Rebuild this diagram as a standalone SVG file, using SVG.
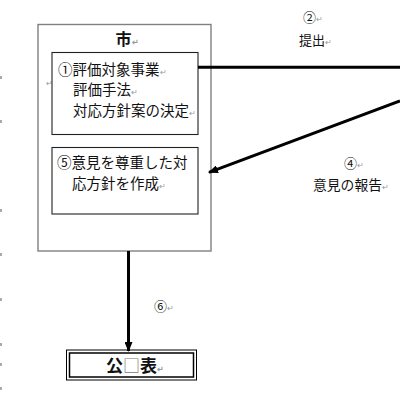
<svg xmlns="http://www.w3.org/2000/svg" width="400" height="400" viewBox="0 0 400 400">
<style>
text{font-family:"Noto Sans CJK JP","Noto Sans",sans-serif;fill:#111}
.t{font-size:14.5px}
.s{font-size:13px}
.pm{font-size:8px;fill:#999}
.box{fill:#fff;stroke:#222;stroke-width:1.1}
.outer{fill:#fff;stroke:#808080;stroke-width:1.4}
.conn{stroke:#000;stroke-width:3;fill:none}
.tick{fill:#aaa}
</style>
<defs>
<marker id="ah" markerWidth="10" markerHeight="8" refX="9" refY="4" orient="auto" markerUnits="userSpaceOnUse">
<path d="M0,0 L10,4 L0,8 Z" fill="#000"/>
</marker>
</defs>
<rect width="400" height="400" fill="#fff"/>
<g id="ticks">
<rect class="tick" x="0" y="76" width="2" height="3"/>
<rect class="tick" x="0" y="120" width="2" height="3"/>
<rect class="tick" x="0" y="209" width="2" height="3"/>
<rect class="tick" x="0" y="253" width="2" height="3"/>
<rect class="tick" x="0" y="298" width="2" height="3"/>
<rect class="tick" x="0" y="343" width="2" height="3"/>
<rect class="tick" x="0" y="363" width="2" height="3"/>
<rect class="tick" x="0" y="387" width="2" height="3"/>
</g>
<g id="city">
<rect class="outer" x="38" y="24.5" width="173" height="226.5"/>
<text x="127" y="45" text-anchor="middle" font-size="16" font-weight="bold">市<tspan class="pm">↵</tspan></text>
<text class="pm" x="46" y="86">↵</text>
</g>
<g id="node1">
<rect class="box" x="52" y="52.5" width="146" height="82"/>
<text class="t" x="58" y="75">①評価対象事業<tspan class="pm">↵</tspan></text>
<text class="t" x="73" y="95">評価手法<tspan class="pm">↵</tspan></text>
<text class="t" x="73" y="115.5">対応方針案の決定<tspan class="pm">↵</tspan></text>
</g>
<g id="node5">
<rect class="box" x="52" y="147.5" width="146" height="66.5"/>
<text class="t" x="57" y="167.5">⑤意見を尊重した対</text>
<text class="t" x="72" y="188.5">応方針を作成<tspan class="pm">↵</tspan></text>
</g>
<g id="publish">
<rect x="66.5" y="350" width="130" height="30" fill="#fff" stroke="#000" stroke-width="1"/>
<rect x="69.5" y="353" width="124" height="24" fill="none" stroke="#000" stroke-width="1.5"/>
<text x="106" y="372" font-size="17" font-weight="bold">公<tspan fill="#777" font-weight="normal">□</tspan>表<tspan class="pm">↵</tspan></text>
</g>
<g id="connectors">
<line class="conn" x1="198" y1="67.3" x2="400" y2="67.3"/>
<line class="conn" x1="400" y1="101" x2="209" y2="172.3" marker-end="url(#ah)"/>
<line class="conn" x1="128.5" y1="251" x2="128.5" y2="351" marker-end="url(#ah)"/>
</g>
<g id="labels">
<text class="s" x="313" y="22" text-anchor="middle">②<tspan class="pm">↵</tspan></text>
<text class="s" x="299" y="45">提出<tspan class="pm">↵</tspan></text>
<text class="s" x="344" y="168">④<tspan class="pm">↵</tspan></text>
<text x="313" y="189.5" font-size="13.8">意見の報告<tspan class="pm">↵</tspan></text>
<text class="s" x="154" y="311">⑥<tspan class="pm">↵</tspan></text>
</g>
</svg>
